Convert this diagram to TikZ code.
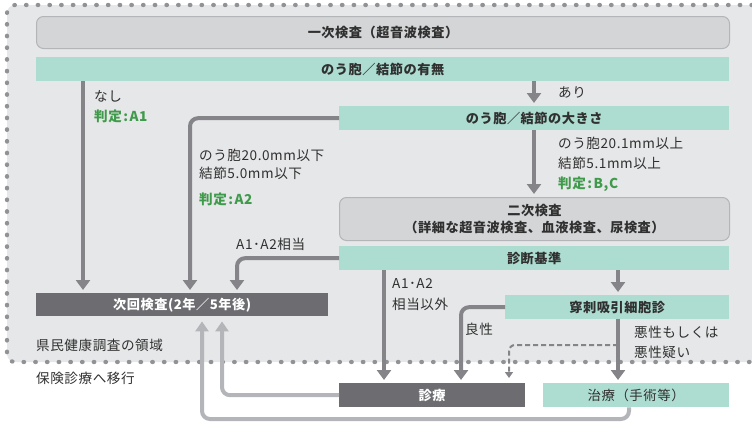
\documentclass[tikz,border=0pt]{standalone}
\usepackage{fontspec}
\setmainfont{Noto Sans CJK JP}[LetterSpace=4]
\usetikzlibrary{arrows.meta,calc}
\definecolor{bgc}{HTML}{E6E7E8}
\definecolor{boxc}{HTML}{D4D5D7}
\definecolor{boxb}{HTML}{B4B5B8}
\definecolor{grn}{HTML}{ADDCD0}
\definecolor{dk}{HTML}{6D6C71}
\definecolor{arc}{HTML}{858589}
\definecolor{lac}{HTML}{B3B5B8}
\definecolor{gtx}{HTML}{3F9B4B}
\definecolor{txc}{HTML}{303030}
\definecolor{dotc}{HTML}{909296}
\newcommand{\jcolon}{\kern1.5pt:\kern1.5pt}
\tikzset{
  every node/.style={font=\fontsize{13.6}{15}\selectfont, text=txc, inner sep=0pt},
  rbox/.style={draw=boxb, line width=1pt, fill=boxc, rounded corners=7pt, anchor=north west, align=center, font=\fontsize{13.2}{17}\selectfont\bfseries},
  gbox/.style={fill=grn, anchor=north west, font=\fontsize{13.2}{15}\selectfont\bfseries},
  dbox/.style={fill=dk, anchor=north west, text=white, font=\fontsize{13.2}{15}\selectfont\bfseries},
  lbl/.style={anchor=west},
  glbl/.style={anchor=west, text=gtx, font=\fontsize{13.6}{15}\selectfont\bfseries},
  arr/.style={draw=arc, line width=4pt, rounded corners=8pt, -{Triangle[width=14pt,length=10pt]}, shorten >=3pt},
  larr/.style={draw=lac, line width=4pt, rounded corners=8pt, -{Triangle[width=13pt,length=10pt]}, shorten >=5pt},
  darr/.style={draw=arc, line width=2pt, dash pattern=on 5pt off 3pt, rounded corners=6pt, -{Triangle[width=8pt,length=6pt]}},
}
\begin{document}
\begin{tikzpicture}[x=1pt,y=-1pt]
\useasboundingbox (0,0) rectangle (752,423);
% region
\fill[bgc, rounded corners=8pt] (760,5) -- (7,5) -- (7,362) -- (760,362) -- cycle;
\draw[dotc, line width=4.2pt, line cap=round, dash pattern=on 0.6pt off 11.1pt, rounded corners=8pt] (752,5) -- (7,5) -- (7,362) -- (752,362);
% boxes
\node[rbox, minimum width=693pt, minimum height=32pt] (n1) at (36,16) {一次検査（超音波検査）};
\node[gbox, minimum width=693pt, minimum height=24pt] (n2) at (36,57) {のう胞／結節の有無};
\node[gbox, minimum width=390pt, minimum height=24pt] (n3) at (339,106) {のう胞／結節の大きさ};
\node[rbox, minimum width=390pt, minimum height=43pt] (n4) at (339,197) {二次検査\\（詳細な超音波検査、血液検査、尿検査）};
\node[gbox, minimum width=390pt, minimum height=24pt] (n5) at (339,246) {診断基準};
\node[dbox, minimum width=292pt, minimum height=23pt] (n6) at (36,293) {次回検査(2年／5年後)};
\node[gbox, minimum width=224pt, minimum height=24pt] (n7) at (505,295) {穿刺吸引細胞診};
\node[dbox, minimum width=186pt, minimum height=24pt] (n8) at (339,383) {診療};
\node[gbox, minimum width=186pt, minimum height=24pt, font=\fontsize{13.4}{15}\selectfont] (n9) at (543,383) {治療（手術等）};
% column coordinates
\coordinate (xa1) at (83,0);
\coordinate (xa2) at (190,0);
\coordinate (xa3) at (237,0);
\coordinate (xar) at (534,0);
\coordinate (xex) at (384,0);
\coordinate (xfn) at (618,0);
\coordinate (xbn) at (461,0);
\coordinate (xl1) at (222,0);
\coordinate (xl2) at (202,0);
\coordinate (xtr) at (629,0);
\coordinate (dsh) at (618,345);
\coordinate (dse) at (509,378);
\coordinate (lcn) at (202,419);
% connectors
\draw[arr] (n2.south -| xa1) -- (n6.north -| xa1);
\draw[arr] (n2.south -| xar) -- (n3.north -| xar);
\draw[arr] (n3.south -| xar) -- (n4.north -| xar);
\draw[arr] (n3.west) -| (n6.north -| xa2);
\draw[arr] (n5.west) -| (n6.north -| xa3);
\draw[arr] (n5.south -| xex) -- (n8.north -| xex);
\draw[arr] (n5.south -| xfn) -- (n7.north -| xfn);
\draw[arr] (n7.west) -| (n8.north -| xbn);
\draw[darr] (dsh) -| (dse);
\draw[arr] (n7.south -| xfn) -- (n9.north -| xfn);
\draw[larr] (n8.west) -| (n6.south -| xl1);
\draw[larr] (n9.south -| xtr) |- (lcn) -- (n6.south -| xl2);
% labels
\node[lbl] (t1) at (94,96) {なし};
\node[glbl] (t2) at (94,116) {判定\jcolon A1};
\node[lbl] (t3) at (558,92) {あり};
\node[lbl] (t4) at (199,155) {のう胞20.0mm以下};
\node[lbl] (t5) at (199,173) {結節5.0mm以下};
\node[glbl] (t6) at (199,199) {判定\jcolon A2};
\node[lbl] (t7) at (558,143) {のう胞20.1mm以上};
\node[lbl] (t8) at (558,163) {結節5.1mm以上};
\node[glbl] (t9) at (558,184) {判定\jcolon B,C};
\node[lbl] (t10) at (236,244) {A1･A2相当};
\node[lbl] (t11) at (392,284) {A1･A2};
\node[lbl] (t12) at (392,304) {相当以外};
\node[lbl] (t13) at (465,329) {良性};
\node[lbl] (t14) at (634,332) {悪性もしくは};
\node[lbl] (t15) at (634,352) {悪性疑い};
\node[lbl] (t16) at (36,345) {県民健康調査の領域};
\node[lbl] (t17) at (36,378) {保険診療へ移行};
\end{tikzpicture}
\end{document}
